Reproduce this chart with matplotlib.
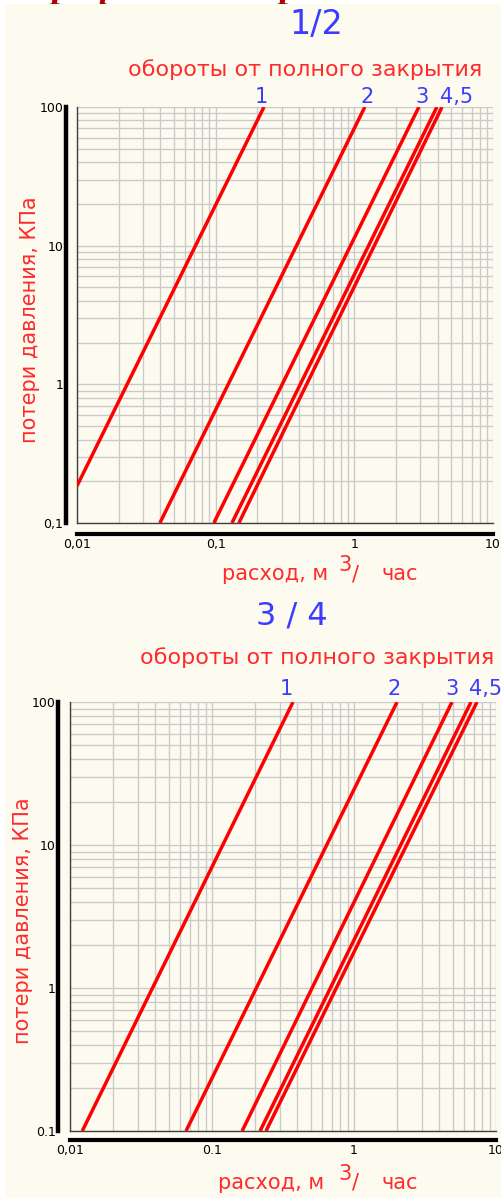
import numpy as np
import matplotlib
matplotlib.use("Agg")
import matplotlib.pyplot as plt
from matplotlib.patches import Rectangle

W, H = 502, 1198

# flow (m3/h) at start / end of each curve, pressure loss (kPa) at start / end
curve_names = ["1", "2", "3", "4,5"]

top_q_start = [0.01, 0.0396, 0.097, 0.131, 0.147]
top_p_start = [0.185, 0.1, 0.1, 0.1, 0.1]
top_q_end = [0.223, 1.19, 2.92, 3.94, 4.29]
top_p_end = [100, 100, 100, 100, 100]

bot_q_start = [0.0122, 0.0656, 0.163, 0.218, 0.240]
bot_p_start = [0.1, 0.1, 0.1, 0.1, 0.1]
bot_q_end = [0.372, 2.01, 4.90, 6.67, 7.35]
bot_p_end = [100, 100, 100, 100, 100]

x_ticks = [0.01, 0.1, 1, 10]
y_ticks = [0.1, 1, 10, 100]
top_xlabels = ["0,01", "0,1", "1", "10"]
top_ylabels = ["0,1", "1", "10", "100"]
bot_xlabels = ["0,01", "0.1", "1", "10"]
bot_ylabels = ["0.1", "1", "10", "100"]

cream = "#fdfbf0"
red = "#ff0000"
txt_red = "#ff2b2b"
blue = "#3c3cff"


def fx(px):
    return px / W


def fy(py):
    return 1 - py / H


def draw_chart(ax, qs, ps, qe, pe, xlabels, ylabels, out_left, out_bottom):
    ax.set_facecolor(cream)
    ax.set_zorder(2)
    ax.set_xscale("log")
    ax.set_yscale("log")
    ax.set_xlim(0.01, 10)
    ax.set_ylim(0.1, 100)

    minor = [m * d for d in [0.01, 0.1, 1] for m in range(2, 10)]
    minor_y = [m * d for d in [0.1, 1, 10] for m in range(2, 10)]
    ax.set_xticks(x_ticks, xlabels)
    ax.set_xticks(minor, minor=True)
    ax.set_yticks(y_ticks, ylabels)
    ax.set_yticks(minor_y, minor=True)
    ax.xaxis.set_minor_formatter(plt.NullFormatter())
    ax.yaxis.set_minor_formatter(plt.NullFormatter())
    ax.tick_params(which="both", length=0, labelsize=9, colors="black")
    ax.tick_params(axis="x", pad=3)
    ax.tick_params(axis="y", pad=2)
    labs = ax.get_xticklabels()
    labs[0].set_ha("left")
    labs[-1].set_ha("right")

    ax.grid(True, which="both", color="#cacaca", lw=1.0, zorder=0)
    ax.set_axisbelow(True)

    ax.spines["top"].set_visible(False)
    ax.spines["right"].set_visible(False)
    ax.spines["left"].set_position(("outward", out_left))
    ax.spines["bottom"].set_position(("outward", out_bottom))
    ax.spines["left"].set_linewidth(3.2)
    ax.spines["bottom"].set_linewidth(3.0)
    ax.spines["left"].set_color("black")
    ax.spines["bottom"].set_color("black")

    ax.axvline(0.01, color="#404040", lw=1.0, clip_on=False, zorder=1)
    ax.axhline(0.1, color="#404040", lw=1.0, clip_on=False, zorder=1)

    for i in range(len(qs)):
        ax.plot([qs[i], qe[i]], [ps[i], pe[i]], color=red, lw=2.5,
                solid_capstyle="butt", zorder=3)


fig = plt.figure(figsize=(W / 100, H / 100), dpi=100)
fig.patch.set_facecolor("white")

# cut-off heading above the drawing (only descenders show)
fig.text(fx(30), fy(-4), "Графики потерь давления при регулировании",
         family="Liberation Serif", style="italic", weight="bold",
         fontsize=28, color="#b00000", va="baseline", ha="left", zorder=0.1)
fig.add_artist(Rectangle((fx(5), 0), 1, fy(4), transform=fig.transFigure,
                         facecolor=cream, edgecolor="none", zorder=0.2))

ax1 = fig.add_axes([fx(77), fy(523), 416 / W, 416 / H])
draw_chart(ax1, top_q_start, top_p_start, top_q_end, top_p_end,
           top_xlabels, top_ylabels, 7.9, 7.9)

ax2 = fig.add_axes([fx(70), fy(1131), 426 / W, 429 / H])
draw_chart(ax2, bot_q_start, bot_p_start, bot_q_end, bot_p_end,
           bot_xlabels, bot_ylabels, 8.3, 6.5)

# titles and captions
fig.text(fx(316), fy(34), "1/2", color=blue, fontsize=24, ha="center", va="baseline")
fig.text(fx(292), fy(625), "3 / 4", color=blue, fontsize=23, ha="center", va="baseline")

fig.text(fx(128), fy(76), "обороты от полного закрытия", color=txt_red,
         fontsize=16, ha="left", va="baseline")
fig.text(fx(140), fy(664), "обороты от полного закрытия", color=txt_red,
         fontsize=16, ha="left", va="baseline")

top_lab_x = [261, 367, 422, 457]
bot_lab_x = [286, 394, 452, 486]
for name, x in zip(curve_names, top_lab_x):
    fig.text(fx(x), fy(103), name, color=blue, fontsize=15, ha="center", va="baseline")
for name, x in zip(curve_names, bot_lab_x):
    fig.text(fx(x), fy(695), name, color=blue, fontsize=15, ha="center", va="baseline")

for base, xl in [(580, 222), (1189, 218)]:
    fig.text(fx(xl), fy(base), "расход, м", color=txt_red, fontsize=15,
             ha="left", va="baseline")
    fig.text(fx(345), fy(base - 9), "3", color=txt_red, fontsize=15,
             ha="center", va="baseline")
    fig.text(fx(356), fy(base), "/", color=txt_red, fontsize=15,
             ha="center", va="baseline")
    fig.text(fx(382), fy(base), "час", color=txt_red, fontsize=15,
             ha="left", va="baseline")

fig.text(fx(30), fy(320), "потери давления, КПа", color=txt_red, fontsize=15,
         rotation=90, ha="center", va="center")
fig.text(fx(23), fy(921), "потери давления, КПа", color=txt_red, fontsize=15,
         rotation=90, ha="center", va="center")

fig.savefig("out.png", dpi=100, facecolor=fig.get_facecolor())
